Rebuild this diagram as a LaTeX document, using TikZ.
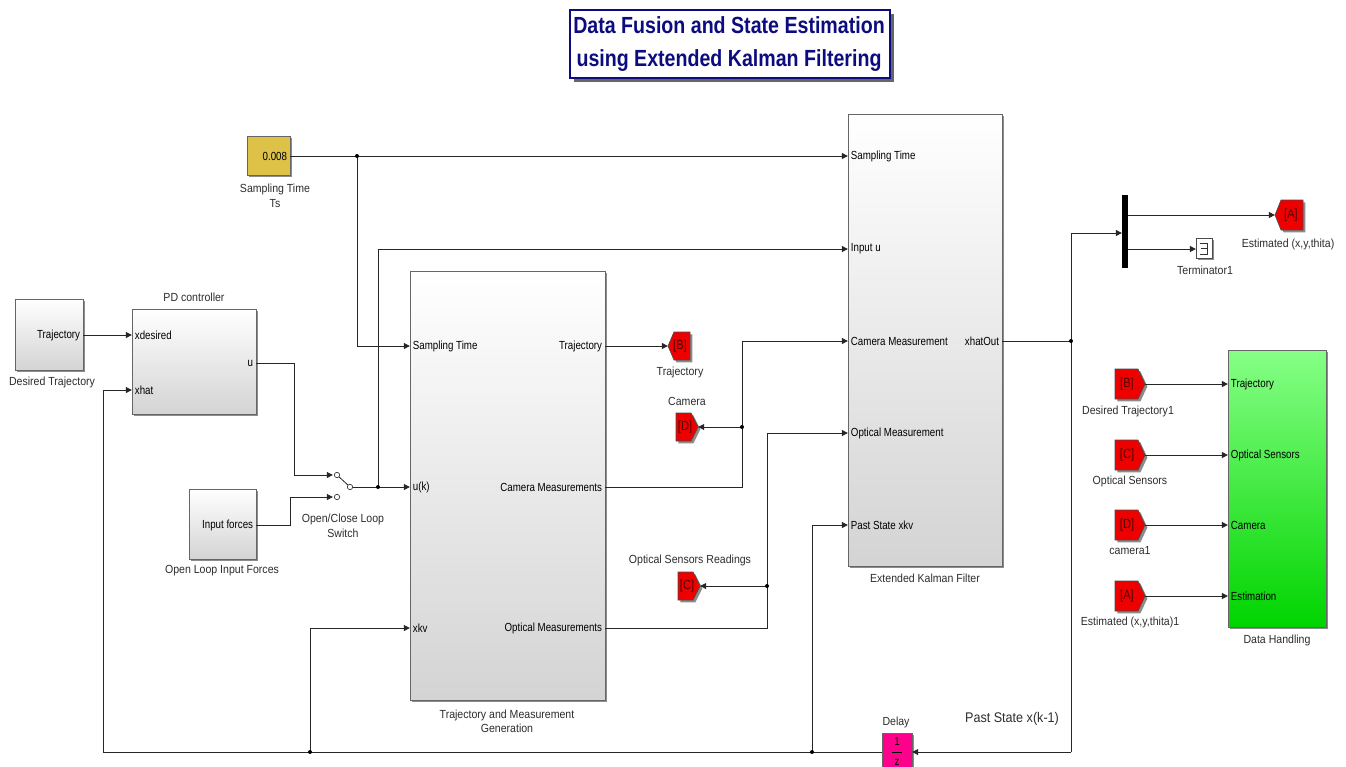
\documentclass[tikz,border=0pt]{standalone}
\usepackage{fontspec}
\setmainfont{Liberation Sans}[FakeStretch=0.9]
\newfontfamily\portfont{Liberation Sans}[FakeStretch=0.83]
\newfontfamily\titlefont{Liberation Sans}[FakeStretch=0.84]
\usetikzlibrary{arrows.meta,shadows,fit}

\definecolor{navy}{RGB}{12,12,128}
\definecolor{gotored}{RGB}{238,0,0}
\definecolor{tagtext}{RGB}{80,0,0}
\definecolor{constyellow}{RGB}{222,194,72}
\definecolor{delaypink}{RGB}{255,0,140}
\definecolor{dhtop}{RGB}{135,255,135}
\definecolor{dhbot}{RGB}{0,212,0}
\definecolor{lbl}{RGB}{45,45,45}

\tikzset{
  wire/.style={draw=black!85, line width=0.75pt},
  sig/.style={wire, -{Triangle[length=4.6pt,width=4.4pt]}},
  shd/.style={general shadow={fill=black!45, shadow xshift=1.8pt, shadow yshift=-1.8pt}},
  blk/.style={draw=black!60, line width=0.6pt, top color=white, bottom color=black!17, shd, inner sep=0pt},
  txt/.style={font=\fontsize{8.8}{10.8}\selectfont, text=lbl, inner sep=1pt},
  lab/.style={txt, align=center},
  port/.style={font=\portfont\fontsize{8.8}{10.5}\selectfont, text=black, inner sep=2pt},
  tagtxt/.style={font=\portfont\fontsize{10}{11}\selectfont, text=tagtext, inner sep=0pt},
  tagbox/.style={draw=black!70, line width=0.5pt, fill=gotored, shd},
  jdot/.style={circle, fill=black, inner sep=0pt, minimum size=3pt},
  swc/.style={circle, draw=black!80, fill=white, line width=0.5pt, inner sep=0pt, minimum size=4pt}
}

% Goto/From tag with its point on the left (#2 = tip x, #3 = centre y)
\newcommand\tagleft[5]{%
  \path[tagbox] (#2,#3) -- (#2+6,#3-#5) -- (#2+#4,#3-#5) -- (#2+#4,#3+#5) -- (#2+6,#3+#5) -- cycle;
  \coordinate (#1) at (#2,#3);}
% Goto/From tag with its point on the right (#2 = left x, #3 = centre y)
\newcommand\tagright[5]{%
  \path[tagbox] (#2,#3-#5) -- (#2+#4-7,#3-#5) -- (#2+#4,#3) -- (#2+#4-7,#3+#5) -- (#2,#3+#5) -- cycle;
  \coordinate (#1) at (#2+#4,#3);}

\begin{document}
\begin{tikzpicture}[x=0.75pt,y=-0.75pt]
\useasboundingbox (0,0) rectangle (1346,767);
\clip (0,0) rectangle (1346,767);
\fill[white] (0,0) rectangle (1346,767);

% ---------- title ----------
\node[draw=navy, line width=0.8pt, fill=white,
      general shadow={fill=black!60, shadow xshift=3pt, shadow yshift=-3pt},
      fit={(570,10)(890,78)}, inner sep=0pt] (titlebox) {};
\node[text=navy, font=\titlefont\bfseries\fontsize{17.5}{24.5}\selectfont, align=center]
  (title) at (729,44) {Data Fusion and State Estimation\\ using Extended Kalman Filtering};

% ---------- blocks ----------
\node[blk, fill=constyellow, top color=constyellow, bottom color=constyellow, fit={(247,136)(290,175)}] (ts) {};
\node[port, anchor=east] at (290,156) {0.008};
\node[lab] at (275,196) {Sampling Time\\Ts};

\node[blk, fit={(15,299)(83,370)}] (dt) {};
\node[port, anchor=east] at (83,335) {Trajectory};
\node[lab] at (52,382) {Desired Trajectory};

\node[blk, fit={(132,309)(256,414)}] (pd) {};
\node[lab] at (194,297) {PD controller};
\node[port, anchor=west] at (132,335) {xdesired};
\node[port, anchor=west] at (132,390) {xhat};
\node[port, anchor=east] at (256,363) {u};

\node[blk, fit={(189,489)(256,559)}] (inf) {};
\node[port, anchor=east] at (256,525) {Input forces};
\node[lab] at (222,571) {Open Loop Input Forces};

\node[blk, fit={(410,271)(605,700)}] (traj) {};
\node[port, anchor=west] at (410,346) {Sampling Time};
\node[port, anchor=west] at (410,487) {u(k)};
\node[port, anchor=west] at (410,628) {xkv};
\node[port, anchor=east] at (605,346) {Trajectory};
\node[port, anchor=east] at (605,487) {Camera Measurements};
\node[port, anchor=east] at (605,628) {Optical Measurements};
\node[lab] at (507,721) {Trajectory and Measurement\\Generation};

\node[blk, fit={(848,114)(1002,566)}] (ekf) {};
\node[port, anchor=west] at (848,156) {Sampling Time};
\node[port, anchor=west] at (848,249) {Input u};
\node[port, anchor=west] at (848,341) {Camera Measurement};
\node[port, anchor=west] at (848,433) {Optical Measurement};
\node[port, anchor=west] at (848,525) {Past State xkv};
\node[port, anchor=east] at (1002,341) {xhatOut};
\node[lab] at (925,578) {Extended Kalman Filter};

\node[blk, top color=dhtop, bottom color=dhbot, fit={(1228,350)(1326,627)}] (dh) {};
\node[port, anchor=west] at (1228,384) {Trajectory};
\node[port, anchor=west] at (1228,455) {Optical Sensors};
\node[port, anchor=west] at (1228,525) {Camera};
\node[port, anchor=west] at (1228,596) {Estimation};
\node[lab] at (1277,640) {Data Handling};

% demux bar
\node[fill=black, fit={(1122,195)(1128,268)}, inner sep=0pt] (mux) {};

% terminator
\node[draw=black!70, fill=white, line width=0.5pt, shd, fit={(1196,238)(1212,258)}, inner sep=0pt] (term) {};
\draw[black!80, line width=0.5pt] (1200,243) -- (1207,243) -- (1207,254) -- (1200,254) (1201,248.5) -- (1207,248.5);
\node[lab] at (1205,270) {Terminator1};

% delay
\node[draw=black!60, fill=delaypink, line width=0.6pt, shd, fit={(882,733)(912,795)}, inner sep=0pt] (delay) {};
\node[port] at (897,741) {1};
\draw[black, line width=0.6pt] (892,752) -- (902,752);
\node[port, anchor=north] at (897,756) {z};
\node[lab] at (896,722) {Delay};
\node[txt, font=\fontsize{10.5}{12}\selectfont] at (1012,719) {Past State x(k-1)};

% ---------- goto / from tags ----------
\tagleft{gB}{668}{346}{22}{14}
\node[tagtxt] at (680,346) {[B]};
\node[lab] at (680,372) {Trajectory};

\tagright{gD}{676}{427}{22}{14}
\node[tagtxt] at (685,427) {[D]};
\node[lab] at (687,401) {Camera};

\tagright{gC}{678}{586}{22}{14}
\node[tagtxt] at (687,586) {[C]};
\node[lab] at (690,560) {Optical Sensors Readings};

\tagleft{gA}{1275}{215}{28}{15}
\node[tagtxt] at (1291,215) {[A]};
\node[lab] at (1288,244) {Estimated (x,y,thita)};

\tagright{fB}{1115}{384}{30}{15}
\node[tagtxt] at (1127,384) {[B]};
\node[lab] at (1128,411) {Desired Trajectory1};
\tagright{fC}{1115}{455}{30}{15}
\node[tagtxt] at (1127,455) {[C]};
\node[lab] at (1130,481) {Optical Sensors};
\tagright{fD}{1115}{525}{30}{15}
\node[tagtxt] at (1127,525) {[D]};
\node[lab] at (1130,551) {camera1};
\tagright{fA}{1115}{596}{30}{15}
\node[tagtxt] at (1127,596) {[A]};
\node[lab] at (1130,622) {Estimated (x,y,thita)1};

% ---------- ports ----------
\coordinate (dtout) at (83,335);
\coordinate (pdin1) at (132,335);
\coordinate (pdin2) at (132,390);
\coordinate (pdout) at (256,363);
\coordinate (infout) at (256,525);
\coordinate (tsout) at (290,156);
\coordinate (trin1) at (410,346);
\coordinate (trin2) at (410,487);
\coordinate (trin3) at (410,628);
\coordinate (trout1) at (605,346);
\coordinate (trout2) at (605,487);
\coordinate (trout3) at (605,628);
\coordinate (ekin1) at (848,156);
\coordinate (ekin2) at (848,249);
\coordinate (ekin3) at (848,341);
\coordinate (ekin4) at (848,433);
\coordinate (ekin5) at (848,525);
\coordinate (ekout) at (1002,341);
\coordinate (muxin) at (1122,233);
\coordinate (muxout1) at (1128,215);
\coordinate (muxout2) at (1128,249);
\coordinate (termin) at (1196,249);
\coordinate (dlin) at (912,752);
\coordinate (dlout) at (882,752);
\coordinate (dhin1) at (1228,384);
\coordinate (dhin2) at (1228,455);
\coordinate (dhin3) at (1228,525);
\coordinate (dhin4) at (1228,596);

% switch
\coordinate (swin1) at (333,475);
\coordinate (swin2) at (333,497);
\node[swc] (swc1) at (337,475) {};
\node[swc] (swc2) at (337,497) {};
\node[swc] (swc3) at (350,487) {};
\draw[black!85, line width=0.6pt] (swc1) -- (swc3);
\node[lab] at (343,526) {Open/Close Loop\\Switch};

% junctions
\coordinate (j1) at (378,487);
\coordinate (j2) at (357,156);
\coordinate (j3) at (742,427);
\coordinate (j4) at (767,586);
\coordinate (j5) at (1071,341);
\coordinate (j6) at (812,752);
\coordinate (j7) at (310,752);

% ---------- wires ----------
\draw[sig] (dtout) -- (pdin1);
\draw[sig] (pdout) -- (294,363) -- (294,475) -- (swin1);
\draw[sig] (infout) -- (290,525) -- (290,497) -- (swin2);
\draw[sig] (swc3) -- (trin2);
\draw[sig] (j1) |- (ekin2);
\draw[sig] (tsout) -- (ekin1);
\draw[sig] (j2) |- (trin1);
\draw[sig] (trout1) -- (gB);
\draw[sig] (trout2) -| (742,341) -- (ekin3);
\draw[sig] (j3) -- (gD);
\draw[sig] (trout3) -| (767,433) -- (ekin4);
\draw[sig] (j4) -- (gC);
\draw[wire] (ekout) -- (j5);
\draw[wire] (1071,233) -- (1071,752);
\draw[sig] (1071,233) -- (muxin);
\draw[sig] (1071,752) -- (dlin);
\draw[sig] (muxout1) -- (gA);
\draw[sig] (muxout2) -- (termin);
\draw[sig] (dlout) -- (103,752) -- (103,390) -- (pdin2);
\draw[sig] (j6) |- (ekin5);
\draw[sig] (j7) |- (trin3);
\draw[sig] (fB) -- (dhin1);
\draw[sig] (fC) -- (dhin2);
\draw[sig] (fD) -- (dhin3);
\draw[sig] (fA) -- (dhin4);

\foreach \j in {j1,j2,j3,j4,j5,j6,j7} \node[jdot] at (\j) {};
\end{tikzpicture}
\end{document}
